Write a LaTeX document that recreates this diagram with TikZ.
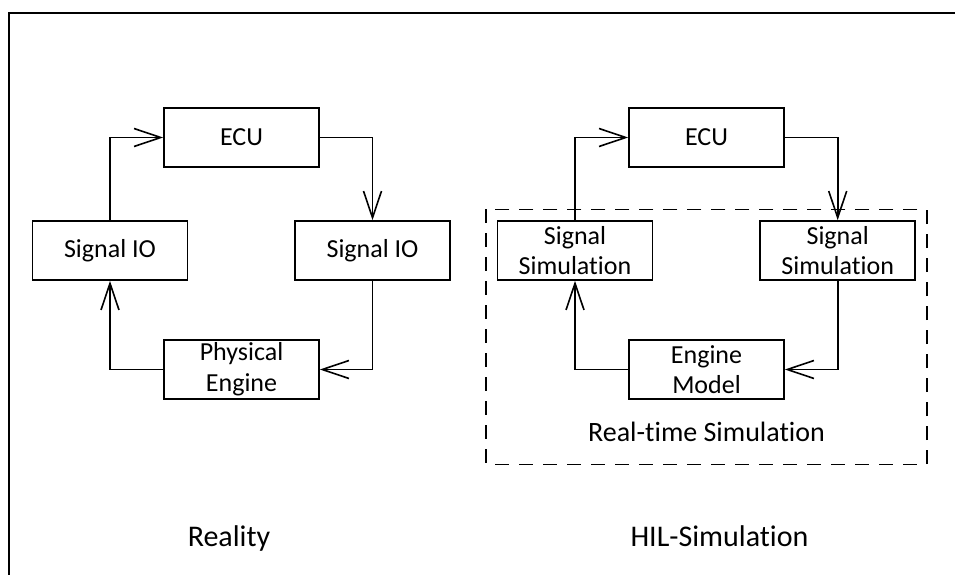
\documentclass[tikz,border=0pt]{standalone}
\usepackage{fontspec}
\setmainfont{Carlito}[Ligatures=NoCommon]
\usetikzlibrary{arrows.meta}
\begin{document}
\begin{tikzpicture}[x=0.75pt,y=-0.75pt,
  blk/.style={draw, line width=1.2pt, minimum width=116.25pt, minimum height=44.25pt,
    inner sep=0pt, align=center, font=\fontsize{19.5}{23}\selectfont},
  flow/.style={draw, line width=1.2pt, -{Straight Barb[length=20pt,width=13.5pt,line width=1.2pt]}},
  caption/.style={anchor=base, inner sep=0pt, font=\fontsize{22.5}{27}\selectfont},
  region/.style={draw, line width=1.2pt, dash pattern=on 10.5pt off 7.5pt}]
\useasboundingbox (0,0) rectangle (955,574);

% frame around both loops (runs off the right and bottom edges)
\draw[line width=1.6pt] (9,600) |- (980,13);

% ---- real engine loop ----
\node[blk] (lecu) at (241.5,137.5) {ECU};
\node[blk] (lio)  at (110,250.5)   {Signal IO};
\node[blk] (rio)  at (372.5,250.5) {Signal IO};
\node[blk] (peng) at (241.5,369.5) {Physical\\Engine};

\draw[flow] (lio.north) |- (lecu.west);
\draw[flow] (lecu.east) -| (rio.north);
\draw[flow] (rio.south) |- (peng.east);
\draw[flow] (peng.west) -| (lio.south);

\node[caption] (lreal) at (229,546.7) {Reality};

% ---- hardware-in-the-loop ----
\draw[region] (486,209.3) rectangle (926.7,464.3);
\node[caption, font=\fontsize{21}{25}\selectfont] (rts) at (706.5,441.7) {Real-time Simulation};

\node[blk] (hecu) at (706.5,137.5) {ECU};
\node[blk] (lsim) at (575,250.5)   {Signal\\Simulation};
\node[blk] (rsim) at (837.7,250.5) {Signal\\Simulation};
\node[blk] (emod) at (706.5,369.5) {Engine\\Model};

\draw[flow] (lsim.north) |- (hecu.west);
\draw[flow] (hecu.east) -| (rsim.north);
\draw[flow] (rsim.south) |- (emod.east);
\draw[flow] (emod.west) -| (lsim.south);

\node[caption] (hil) at (719.5,546.7) {HIL-Simulation};
\end{tikzpicture}
\end{document}
